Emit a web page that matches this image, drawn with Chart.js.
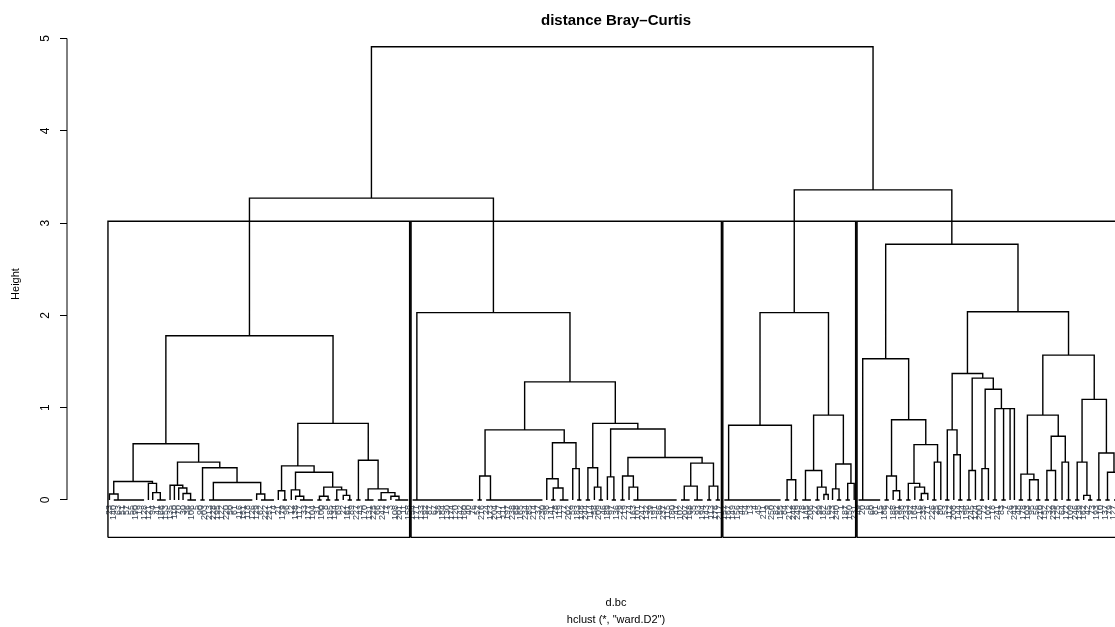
<!DOCTYPE html>
<html><head><meta charset="utf-8">
<script src="https://cdn.jsdelivr.net/npm/chart.js@4"></script>
<style>html,body{margin:0;padding:0;overflow:hidden;background:#fff}</style>
</head><body>
<canvas id="c" width="1232" height="627"></canvas>
<script>
// ---------- data ----------
const leafLabels1 = [23,140,63,51,57,55,190,19,128,121,94,41,166,153,135,110,70,30,36,106,5,90,203,213,228,195,122,220,50,61,116,151,118,126,129,62,222,251,14,21,179,96,12,138,117,33,177,104,31,100,8,185,134,69,22,161,89,227,43,170,131,225,66,242,17,3,108,201,11,158];
const leafLabels2 = [154,171,133,192,87,67,38,184,130,174,120,142,160,40,76,52,216,24,173,204,147,111,197,238,68,165,234,85,214,37,230,98,141,28,119,77,202,59,183,148,244,114,58,209,46,189,97,136,29,219,74,163,101,247,132,39,191,86,237,115,180,47,102,207,168,35,93,194,143,113,176,217];
const leafLabels3 = [157,167,149,156,44,54,13,4,45,211,9,250,82,155,84,212,248,249,78,145,206,27,99,182,65,123,240,1,187,150,231];
const leafLabels4 = [49,20,6,60,81,15,186,2,188,91,198,233,92,164,16,235,71,226,25,80,53,112,208,144,34,196,245,124,200,72,107,18,241,83,7,26,243,48,178,103,95,56,210,152,32,239,125,64,172,109,246,139,162,42,73,193,10,137,79,127,199,88,215];

// Trees: [height, left, right]; a bare number = a run of that many leaves joined at height 0
const cluster1Tree = [1.78,
  [0.61,
    [0.20, [0.065, 1, 8], [0.18, 1, [0.08, 1, 3]]],
    [0.41,
      [0.16, [0.16, 1, 1], [0.13, 1, [0.07, 1, 3]]],
      [0.35, 2, [0.19, 11, [0.065, 1, 4]]]]],
  [0.83,
    [0.37,
      [0.10, 1, 2],
      [0.30,
        [0.11, 1, [0.04, 1, 4]],
        [0.14, [0.04, 2, 2], [0.11, 2, [0.05, 1, 2]]]]],
    [0.43, 2, [0.12, 3, [0.08, 3, [0.04, 1, 4]]]]]];
const cluster2Tree = [2.03, 15,
  [1.28,
    [0.76, [0.26, 2, 14], [0.62, [0.23, 1, [0.13, 2, 3]], [0.34, 1, 2]]],
    [0.83,
      [0.35, 2, [0.14, 1, 2]],
      [0.77,
        [0.25, 1, 2],
        [0.46, [0.26, 2, [0.14, 1, 11]], [0.40, [0.15, 3, 3], [0.15, 2, 2]]]]]]];
const cluster3Tree = [2.03,
  [0.81, 14, [0.22, 2, 2]],
  [0.92, [0.32, 3, [0.14, 2, [0.06, 1, 1]]], [0.39, [0.12, 1, 2], [0.18, 2, 1]]]];
const cluster4Tree = [2.77,
  [1.53, 6,
    [0.87,
      [0.26, 2, [0.10, 1, 2]],
      [0.60, [0.18, 2, [0.14, 1, [0.07, 2, 1]]], [0.41, 2, 1]]]],
  [2.04,
    [1.37,
      [0.76, 2, [0.49, 1, 2]],
      [1.32, [0.32, 2, 1], [1.20, [0.34, 2, 1], [0.99, 2, [0.99, 2, [0.99, 1, 1]]]]]],
    [1.57,
      [0.92, [0.28, 2, [0.22, 2, 2]], [0.69, [0.32, 2, 2], [0.41, 1, 2]]],
      [1.09, [0.41, 2, [0.05, 1, 2]], [0.51, 2, [0.30, 2, [0.12, 2, 2]]]]]]];

const joinHeights = [3.27, 3.36];   // cluster1+cluster2, cluster3+cluster4
const rootHeight = 4.91;
const yTicks = [0, 1, 2, 3, 4, 5];
const clusterK = 4;

// ---------- build dendrogram geometry (in data units) ----------
const leafLabels = [...leafLabels1, ...leafLabels2, ...leafLabels3, ...leafLabels4];
const treePts = [];
const allHeights = [];
let nextLeaf = 1;

function addPath(pts) {
  pts.forEach(p => treePts.push(p));
  treePts.push({x: pts[pts.length - 1].x, y: null});
}
function mergeNodes(L, R, h) {
  allHeights.push(h);
  addPath([{x: L.x, y: L.h}, {x: L.x, y: h}, {x: R.x, y: h}, {x: R.x, y: R.h}]);
  return {x: (L.x + R.x) / 2, h: h};
}
function place(node) {
  if (typeof node === 'number') {
    const first = nextLeaf, last = nextLeaf + node - 1;
    nextLeaf += node;
    let x = last;
    for (let i = last - 1; i >= first; i--) x = (i + x) / 2;
    if (node > 1) addPath([{x: first, y: 0}, {x: last, y: 0}]);
    return {x: x, h: 0};
  }
  const L = place(node[1]);
  const R = place(node[2]);
  return mergeNodes(L, R, node[0]);
}
const ranges = [];
function placeCluster(tree) {
  const first = nextLeaf;
  const n = place(tree);
  ranges.push([first, nextLeaf - 1]);
  return n;
}
const c1 = placeCluster(cluster1Tree);
const c2 = placeCluster(cluster2Tree);
const c3 = placeCluster(cluster3Tree);
const c4 = placeCluster(cluster4Tree);
const leftJoin = mergeNodes(c1, c2, joinHeights[0]);
const rightJoin = mergeNodes(c3, c4, joinHeights[1]);
mergeNodes(leftJoin, rightJoin, rootHeight);

const sortedH = allHeights.slice().sort((a, b) => b - a);
const cutH = (sortedH[clusterK - 2] + sortedH[clusterK - 1]) / 2;

const X_MIN = -8.8, X_MAX = 244.78;
const Y_MIN = -0.4117, Y_MAX = 5.092;
const BOX_BOTTOM = -0.405;

const boxPts = [];
ranges.forEach(([a, b]) => {
  const x0 = a - 0.34, x1 = b + 0.33;
  boxPts.push({x: x0, y: BOX_BOTTOM}, {x: x0, y: cutH}, {x: x1, y: cutH}, {x: x1, y: BOX_BOTTOM}, {x: x0, y: BOX_BOTTOM}, {x: x0, y: null});
});
const axisPts = [{x: X_MIN, y: yTicks[0]}, {x: X_MIN, y: yTicks[yTicks.length - 1]}];

Chart.defaults.font.family = '"Liberation Sans", Arial, Helvetica, sans-serif';
Chart.defaults.color = '#000';

const lineDs = (data, w) => ({
  data: data, showLine: true, pointRadius: 0, pointHoverRadius: 0,
  borderColor: '#000', borderWidth: w, fill: false, tension: 0,
  spanGaps: false, clip: false
});

const LEAF_FONT = 9;

new Chart(document.getElementById('c'), {
  type: 'scatter',
  data: { datasets: [lineDs(treePts, 1.4), lineDs(boxPts, 1.4), lineDs(axisPts, 1)] },
  options: {
    responsive: false, animation: false, devicePixelRatio: 1,
    layout: { padding: { left: 0, right: 67, top: 0, bottom: 0 } },
    scales: {
      x: {
        type: 'linear', min: X_MIN, max: X_MAX,
        afterBuildTicks: s => { s.ticks = leafLabels.map((_, i) => ({value: i + 1})); },
        afterFit: s => { s.height = 75.8; },
        grid: { display: false }, border: { display: false },
        ticks: {
          autoSkip: false, minRotation: 90, maxRotation: 90, padding: 33,
          mirror: true, labelOffset: LEAF_FONT * 1.2,
          font: { size: LEAF_FONT }, color: '#3a4452',
          callback: v => String(leafLabels[Math.round(v) - 1])
        },
        title: { display: true, text: 'd.bc', font: { size: 11 }, color: '#000', padding: { top: 0, bottom: 4.2 } }
      },
      y: {
        type: 'linear', min: Y_MIN, max: Y_MAX,
        afterBuildTicks: s => { s.ticks = yTicks.map(v => ({value: v})); },
        afterFit: s => { s.width = 67; },
        grid: { drawOnChartArea: false, drawTicks: true, tickLength: 7, color: '#000', lineWidth: 1 },
        border: { display: false },
        ticks: { minRotation: 90, maxRotation: 90, crossAlign: 'center', padding: 11, font: { size: 12 }, color: '#000' },
        title: { display: true, text: 'Height', font: { size: 11 }, color: '#000', padding: { top: 9.5, bottom: 0 } }
      }
    },
    plugins: {
      legend: { display: false },
      tooltip: { enabled: false },
      title: { display: true, text: 'distance Bray–Curtis', fullSize: false, color: '#000',
               font: { size: 15, weight: 'bold' }, padding: { top: 12, bottom: 0 } },
      subtitle: { display: true, position: 'bottom', text: 'hclust (*, "ward.D2")', fullSize: false, color: '#000',
                  font: { size: 11, weight: 'normal' }, padding: { top: 0, bottom: 0 } }
    }
  }
});
</script>
</body></html>
